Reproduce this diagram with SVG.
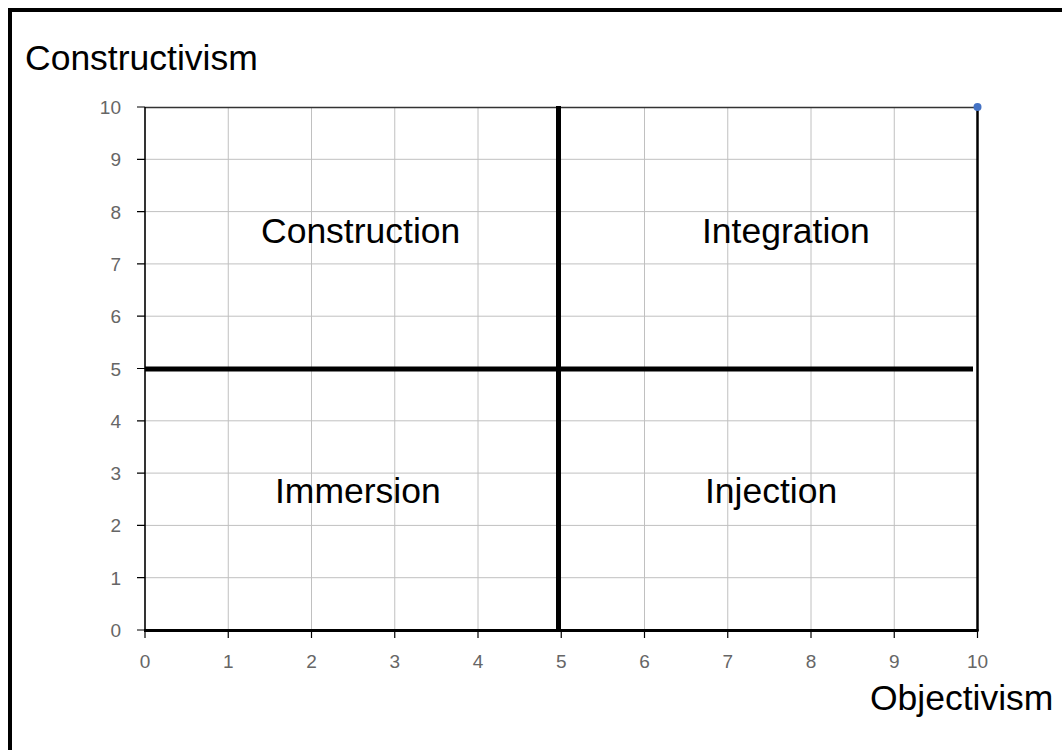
<svg xmlns="http://www.w3.org/2000/svg" width="1062" height="750" viewBox="0 0 1062 750">
<style>
.grid{stroke:#c0c0c0;stroke-width:1;fill:none}
.tick{stroke:#000;stroke-width:1.2}
.tl{font-family:"Liberation Sans",Arial,sans-serif;font-size:19px;fill:#666}
.big{font-family:"Liberation Sans",Arial,sans-serif;font-size:35.5px;fill:#000}
</style>
<rect x="0" y="0" width="1062" height="750" fill="#fff"/>
<rect id="frame" x="10" y="10" width="1100" height="800" fill="none" stroke="#000" stroke-width="4"/>
<g id="grid">
<path class="grid" d="M228.25 107V630M311.5 107V630M394.75 107V630M478 107V630M644.5 107V630M727.75 107V630M811 107V630M894.25 107V630"/>
<path class="grid" d="M145 577.7H977M145 525.4H977M145 473.1H977M145 420.8H977M145 316.2H977M145 263.9H977M145 211.6H977M145 159.3H977"/>
</g>
<g id="ticks">
<path class="tick" d="M137 107H145M137 159.3H145M137 211.6H145M137 263.9H145M137 316.2H145M137 368.5H145M137 420.8H145M137 473.1H145M137 525.4H145M137 577.7H145M137 630H145"/>
<path class="tick" d="M145 630V638M228.25 630V638M311.5 630V638M394.75 630V638M478 630V638M561.25 630V638M644.5 630V638M727.75 630V638M811 630V638M894.25 630V638M977.5 630V638"/>
</g>
<g id="axes">
<line x1="145" y1="107.5" x2="977.5" y2="107.5" stroke="#333" stroke-width="1.5"/>
<line x1="145" y1="107" x2="145" y2="631" stroke="#000" stroke-width="1.6"/>
<line x1="977.5" y1="107" x2="977.5" y2="631" stroke="#000" stroke-width="2.5"/>
<line x1="144" y1="630.5" x2="978.5" y2="630.5" stroke="#000" stroke-width="3"/>
</g>
<g id="connectors">
<line x1="558.5" y1="106" x2="558.5" y2="630" stroke="#000" stroke-width="5"/>
<line x1="145" y1="369" x2="973" y2="369" stroke="#000" stroke-width="5"/>
</g>
<circle id="point" cx="977.5" cy="107" r="4" fill="#4472c4"/>
<g id="ylabels" class="tl" text-anchor="end">
<text x="121" y="114">10</text>
<text x="121" y="166.3">9</text>
<text x="121" y="218.6">8</text>
<text x="121" y="270.9">7</text>
<text x="121" y="323.2">6</text>
<text x="121" y="375.5">5</text>
<text x="121" y="427.8">4</text>
<text x="121" y="480.1">3</text>
<text x="121" y="532.4">2</text>
<text x="121" y="584.7">1</text>
<text x="121" y="637">0</text>
</g>
<g id="xlabels" class="tl" text-anchor="middle">
<text x="145" y="668">0</text>
<text x="228.25" y="668">1</text>
<text x="311.5" y="668">2</text>
<text x="394.75" y="668">3</text>
<text x="478" y="668">4</text>
<text x="561.25" y="668">5</text>
<text x="644.5" y="668">6</text>
<text x="727.75" y="668">7</text>
<text x="811" y="668">8</text>
<text x="894.25" y="668">9</text>
<text x="977.5" y="668">10</text>
</g>
<g id="title-y"><text class="big" x="25" y="70">Constructivism</text></g>
<g id="title-x"><text class="big" x="870" y="710">Objectivism</text></g>
<g id="construction"><text class="big" x="261" y="242.7">Construction</text></g>
<g id="integration"><text class="big" x="702" y="242.7">Integration</text></g>
<g id="immersion"><text class="big" x="275" y="502.7">Immersion</text></g>
<g id="injection"><text class="big" x="705" y="502.7">Injection</text></g>
</svg>
